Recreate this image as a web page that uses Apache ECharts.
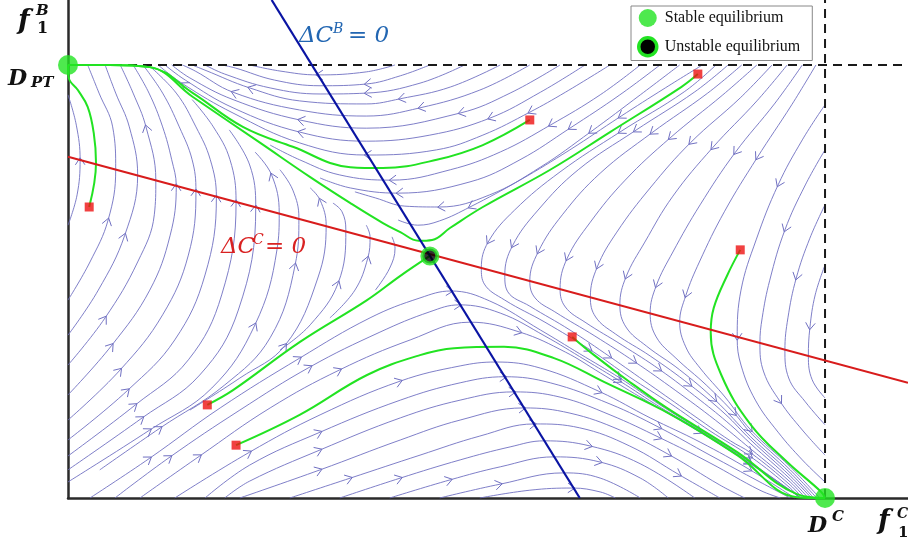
<!DOCTYPE html>
<html><head><meta charset="utf-8">
<script src="https://cdn.jsdelivr.net/npm/echarts@6/dist/echarts.min.js"></script>
<style>html,body{margin:0;padding:0;background:#fff}#c{width:908px;height:550px}</style>
</head><body><div id="c"></div>
<script>
// Units: f1C in % of D^C (D^C = 100), f1B in % of D_PT (D_PT = 100)
const xMax = 110.96, yMax = 115.0;

// streamlines, each listed in the direction of the flow
const leftArcs = [
  [[0,63.0],[1.2,70.0],[1.6,78.1],[1.1,86.1],[0,93.1]],
  [[0,45.7],[2.9,54.5],[5.3,64.2],[6.3,75.8],[5.9,85.7],[4.1,93.5],[2.6,100]],
  [[0,37.6],[4.0,48.0],[7.5,60.7],[9.2,74.6],[8.1,85.7],[6.3,93.5],[4.9,100]],
  [[0,30.7],[4.9,41.6],[9.2,54.5],[11.4,65.4],[11.6,73.4],[10.3,85.7],[8.6,93.5],[6.9,100]],
  [[0,23.8],[5.8,35.3],[10.8,48.0],[13.5,60.7],[14.3,72.1],[13.7,78.1],[12.5,85.7],[10.7,93.5],[8.6,100]],
  [[0,18.0],[6.9,29.6],[12.5,42.3],[15.9,56.1],[16.9,70.9],[16.4,78.1],[14.7,85.7],[12.5,93.5],[9.9,100]],
  [[0,13.4],[7.9,24.9],[14.1,36.5],[18.1,51.5],[19.6,69.5],[18.8,78.1],[16.9,85.7],[14.3,93.5],[10.6,100]],
  [[0,9.7],[8.9,21.5],[15.9,31.9],[20.3,46.9],[22.2,68.4],[21.4,78.1],[19.2,85.7],[16.4,92.0]],
  [[0,6.5],[9.8,18.5],[17.4,28.4],[22.5,43.4],[24.8,67.2],[24.0,76.9],[21.3,85.0]],
  [[0,3.7],[10.8,15.7],[19.0,25.4],[24.7,40.0],[27.6,57.3],[27.9,65.8],[26.9,74.6],[24.7,79.9]],
  [[4.2,6.5],[12.2,16.2],[20.7,26.1],[26.7,37.0],[30.0,53.8],[30.5,64.7],[29.7,71.1],[28.0,75.8]],
  [[16.1,20.3],[22.7,27.7],[28.7,35.3],[33.0,50.8],[34.1,63.0],[33.3,68.8],[32.0,71.6]],
  [[28.0,34.2],[32.0,40.0],[35.7,49.7],[36.7,61.9],[36.2,66.1],[35.0,68.1]],
  [[34.6,41.6],[37.9,48.0],[39.6,55.4],[39.9,60.3],[39.4,63.0]],
  [[40.6,48.0],[42.5,53.1],[43.2,57.7],[42.8,60.3]]
];
const topArcs = [
  [[43.2,100],[39.4,98.4],[33.0,97.7],[28.0,98.6],[24.0,100]],
  [[47.8,100],[43.9,97.5],[39.4,95.6],[33.3,95.2],[27.3,96.5],[22.1,99.3],[20.3,100]],
  [[52.4,100],[46.5,95.8],[39.4,93.5],[33.3,93.3],[26.7,94.7],[20.7,97.9],[18.1,100]],
  [[57.1,100],[50.5,94.9],[43.9,92.2],[39.4,91.0],[30.6,91.7],[24.0,94.7],[18.1,98.8],[16.4,100]],
  [[61.0,100],[54.4,94.2],[46.5,90.1],[39.4,88.2],[30.6,89.6],[21.8,93.7],[16.8,98.6],[15.1,100]],
  [[65.0,100],[58.4,93.5],[51.8,88.9],[39.4,85.4],[30.6,87.3],[21.8,92.0],[16.1,97.0],[13.7,100]],
  [[68.3,100],[62.4,93.7],[55.7,87.7],[47.8,83.8],[39.4,82.4],[30.6,84.5],[21.8,90.1],[15.5,96.5],[12.8,100]],
  [[71.6,100],[65.7,93.7],[61.0,89.1],[54.8,83.8],[48.7,80.4],[39.4,79.2],[30.6,82.0],[21.8,88.9],[15.2,95.6],[11.9,100]],
  [[75.6,100],[70.3,93.1],[63.7,86.1],[57.1,79.9],[50.5,75.8],[42.7,73.4],[35.9,74.6],[30.6,78.1],[26.7,81.5]],
  [[78.2,100],[72.9,93.1],[66.3,85.4],[59.7,78.1],[53.1,73.0],[43.6,70.4],[37.3,71.6],[33.3,73.9]],
  [[80.8,100],[75.6,93.1],[69.0,84.5],[62.4,76.4],[55.7,70.0],[49.1,67.2],[44.5,67.4],[40.6,69.3],[37.9,70.7]],
  [[83.8,100],[78.9,94.7],[72.9,88.0],[66.3,80.4],[59.7,73.4],[53.1,67.2],[49.1,64.0],[46.2,63.0],[43.6,64.2]]
];
const bottomArcs = [
  [[2.9,0],[10.8,9.2],[20.1,20.8],[30.6,32.3],[39.9,41.6],[46.5,46.2],[50.6,47.8],[55.7,45.5],[62.4,38.8],[67.6,33.3],[72.9,27.7],[78.2,21.5],[83.5,15.7],[90.1,8.3],[96.4,0.5]],
  [[6.2,0],[13.5,9.5],[22.7,20.3],[32.0,30.3],[41.2,38.3],[47.8,43.0],[51.7,44.6],[57.1,42.7],[63.0,37.4],[68.3,31.9],[72.9,27.0],[78.2,21.0],[83.5,15.5],[90.1,8.1],[96.7,0.2]],
  [[9.5,0],[17.4,9.7],[26.7,20.8],[35.9,29.6],[45.2,36.5],[53.1,40.6],[59.7,38.3],[65.7,33.7],[70.3,28.9],[75.6,23.3],[83.5,15.2],[90.1,7.9],[96.8,0]],
  [[14.1,0],[24.0,10.6],[33.3,19.2],[43.9,27.0],[51.8,30.5],[56.5,31.4],[62.4,30.0],[70.3,24.5],[76.9,18.5],[83.5,12.9],[90.1,6.5],[96.0,0]],
  [[18.1,0],[24.0,7.6],[33.3,15.2],[43.9,22.6],[51.8,26.6],[57.7,28.0],[63.7,26.6],[71.6,21.7],[78.2,16.2],[84.8,9.9],[91.4,3.7],[95.4,0]],
  [[20.7,0],[24.0,3.9],[33.3,11.1],[43.9,18.5],[51.8,22.6],[58.9,24.5],[65.0,23.3],[71.6,19.2],[78.2,13.9],[84.8,8.1],[91.4,1.8],[94.1,0]],
  [[22.7,0],[33.3,6.5],[43.9,13.4],[51.8,18.0],[60.2,20.8],[66.3,19.6],[72.9,15.7],[79.5,9.9],[86.1,3.0],[89.4,0]],
  [[29.3,0],[37.3,4.6],[46.5,9.9],[54.4,14.3],[61.6,17.1],[67.6,16.2],[74.2,12.0],[80.8,5.3],[86.1,0]],
  [[35.9,0],[43.9,4.6],[51.8,8.8],[58.4,11.8],[62.9,13.2],[69.0,12.0],[75.6,7.9],[82.8,0]],
  [[42.5,0],[50.5,4.2],[57.1,7.2],[64.2,9.5],[70.3,8.3],[75.6,4.6],[79.3,0]],
  [[49.1,0],[57.1,3.2],[65.5,5.8],[70.3,4.6],[75.6,0]],
  [[54.4,0],[61.0,1.8],[66.7,2.3],[70.3,1.4],[72.3,0]]
];
const rightArcs = [
  [[85.6,100],[81.4,93.8],[72.9,84.5],[65.0,75.3],[59.0,66.5],[55.5,59.1],[54.6,53.1],[55.0,49.4],[57.7,45.7],[63.0,40.6],[69.0,34.2],[74.2,27.9],[79.5,21.9],[84.8,15.5],[90.2,9.5],[95.4,2.3],[96.6,0]],
  [[87.2,100],[82.8,93.8],[74.9,84.8],[67.4,75.8],[62.1,66.5],[58.7,58.2],[57.7,51.5],[58.1,47.6],[61.0,44.3],[66.3,38.8],[71.6,32.6],[76.9,26.1],[82.2,19.6],[87.5,13.2],[90.2,10.4],[95.4,3.0],[97.0,0]],
  [[89.0,100],[84.5,93.5],[77.1,84.3],[70.3,75.0],[65.3,65.4],[62.1,56.8],[61.0,50.1],[61.7,46.2],[64.3,43.0],[69.6,37.4],[74.9,31.4],[80.2,24.9],[85.5,18.0],[90.2,11.3],[95.4,3.7],[97.4,0]],
  [[91.0,100],[86.5,93.1],[79.5,83.1],[73.6,73.4],[69.0,63.7],[65.9,55.2],[65.0,48.3],[65.7,44.1],[68.3,40.6],[73.2,35.3],[78.2,29.6],[83.5,22.6],[87.5,16.9],[90.2,12.5],[95.4,4.4],[97.8,0]],
  [[93.0,100],[88.8,92.4],[82.2,82.0],[76.9,71.6],[72.5,61.4],[69.9,53.3],[69.0,46.4],[69.7,41.8],[72.3,37.9],[76.9,32.8],[82.2,26.1],[86.8,19.4],[90.2,13.4],[95.4,5.1],[98.2,0]],
  [[95.0,100],[91.0,91.7],[85.1,80.8],[79.9,69.7],[76.2,59.1],[73.7,51.0],[72.9,44.6],[73.7,39.5],[76.4,35.1],[80.8,29.6],[85.5,22.6],[90.2,14.1],[95.4,5.8],[98.5,0]],
  [[97.0,100],[93.4,91.2],[88.1,79.7],[83.5,67.7],[79.9,56.8],[77.7,49.0],[76.9,42.7],[77.7,37.2],[80.3,32.3],[84.3,26.1],[88.1,19.4],[90.2,15.0],[95.4,6.5],[98.9,0]],
  [[98.8,100],[95.6,90.8],[91.0,78.5],[86.7,66.1],[83.4,54.5],[81.6,46.7],[80.8,40.6],[81.6,34.9],[83.5,30.0],[86.8,23.3],[90.2,15.7],[95.4,7.2],[99.3,0]],
  [[100,90.8],[97.0,82.7],[93.8,72.3],[90.9,59.6],[88.9,48.0],[88.4,36.9],[88.9,30.7],[90.8,22.6],[93.8,15.2],[97.0,8.8],[100,3.7]],
  [[100,80.4],[97.4,72.3],[94.7,61.9],[92.7,50.3],[91.7,41.6],[91.4,35.8],[91.9,29.1],[94.1,22.2],[97.0,15.7],[100,9.9]],
  [[100,67.7],[98.0,60.0],[96.2,50.8],[95.1,41.6],[94.7,34.2],[95.2,27.7],[97.4,22.2],[100,16.9]],
  [[100,53.8],[98.7,46.9],[98.0,39.3],[97.8,32.8],[98.3,27.3],[100,23.1]]
];

// simulated trajectories from the initial points (green)
const trajectories = [
  [[2.8,67.2],[3.7,77.4],[3.4,84.3],[2.6,90.3],[1.3,94.2],[0.1,97.0],[0,100]],
  [[61.0,87.3],[54.8,81.5],[48.7,78.1],[41.6,76.2],[37.3,76.4],[29.7,81.1],[23.1,85.7],[16.5,93.5],[10.8,99.5],[5.5,100],[0,100]],
  [[83.2,97.9],[81.0,94.9],[71.6,84.5],[63.7,75.8],[54.8,67.2],[50.5,62.4],[48.1,59.6],[46.3,59.4],[43.9,61.4],[41.6,63.5],[37.3,68.1],[32.0,74.1],[25.4,82.0],[16.5,92.6],[10.8,99.5],[5.5,100],[0,100]],
  [[18.4,21.5],[21.8,24.9],[30.6,36.0],[39.5,45.7],[43.9,51.3],[47.8,55.9]],
  [[22.2,12.2],[30.6,19.2],[39.5,28.4],[46.5,33.0],[51.0,34.6],[57.6,34.9],[64.2,32.3],[70.8,26.8],[79.7,19.2],[88.4,9.9],[96.3,0.2],[100,0]],
  [[66.6,37.2],[69.5,33.0],[74.2,26.8],[79.1,20.8],[88.4,10.6],[96.3,0.9],[100,0]],
  [[88.8,57.3],[87.1,51.5],[85.3,43.9],[84.9,38.3],[86.3,28.4],[90.2,16.9],[95.0,8.3],[99.5,1.4],[100,0]]
];
const initialPoints = [[2.8,67.2],[61.0,87.3],[83.2,97.9],[88.8,57.3],[66.6,37.2],[18.4,21.5],[22.2,12.2]];
const stableEq = [[0,100],[100,0]];
const unstableEq = [[47.8,55.9]];
const nullclineC = [[0,78.8],[110.96,26.6]];   // ΔC^C = 0
const nullclineB = [[26.9,115],[67.6,0]];      // ΔC^B = 0
const boundTop = [[0,100],[110.96,100]];       // D_PT
const boundRight = [[100,0],[100,115]];        // D^C

const STREAM = '#7070c2', GREEN = '#22e322';
const streamFamilies = [leftArcs, topArcs, bottomArcs, rightArcs];

const series = [];
streamFamilies.forEach(fam => fam.forEach(pts => {
  series.push({type:'line', data: pts, smooth: 0.4, symbol:'none', silent:true,
    lineStyle:{color: STREAM, width: 0.9}, z: 1});
}));
series.push({
  id:'arrows', type:'custom', data: [], silent:true, z: 1, encode:{x:[0,2,4], y:[1,3,5]},
  renderItem: function (params, api) {
    const p = api.coord([api.value(0), api.value(1)]);
    const a = api.coord([api.value(2), api.value(3)]);
    const b = api.coord([api.value(4), api.value(5)]);
    const ang = Math.atan2(b[1]-a[1], b[0]-a[0]);
    const L = 8.5, th = 0.6;
    const tip = [p[0] + 2*Math.cos(ang), p[1] + 2*Math.sin(ang)];
    const p1 = [tip[0] - L*Math.cos(ang+th), tip[1] - L*Math.sin(ang+th)];
    const p2 = [tip[0] - L*Math.cos(ang-th), tip[1] - L*Math.sin(ang-th)];
    return {type:'polyline', shape:{points:[p1, tip, p2]}, style:{stroke: STREAM, lineWidth: 1, fill: 'none'}};
  }
});
series.push({type:'line', data: boundTop, symbol:'none', silent:true, lineStyle:{color:'#1a1a1a', width:2, type:[9,6]}, z: 2});
series.push({type:'line', data: boundRight, symbol:'none', silent:true, lineStyle:{color:'#1a1a1a', width:2, type:[9,6]}, z: 2});
trajectories.forEach(pts => series.push({type:'line', data: pts, smooth: 0.4, symbol:'none', silent:true,
  lineStyle:{color: GREEN, width: 2}, z: 3}));
series.push({type:'line', data: nullclineC, symbol:'none', silent:true, lineStyle:{color:'#d81c1c', width:2.2}, z: 4});
series.push({type:'line', data: nullclineB, symbol:'none', silent:true, lineStyle:{color:'#0a14a3', width:2.2}, z: 4});
series.push({type:'scatter', data: initialPoints, symbol:'rect', symbolSize: 9, silent:true, itemStyle:{color:'#ee1111'}, z: 5});
series.push({type:'scatter', name:'Stable equilibrium', data: stableEq, symbolSize: 20, clip:false, silent:true, itemStyle:{color: GREEN}, z: 6});
series.push({type:'scatter', name:'Unstable equilibrium', data: unstableEq, symbolSize: 15, clip:false, silent:true,
  itemStyle:{color:'#000', borderColor: GREEN, borderWidth: 4}, z: 6});

const T = '#111';
const fb = 'italic bold 27px "DejaVu Serif"';
const graphic = [
  {type:'text', x:18, y:8, style:{text:'f', font: fb, fill:T}},
  {type:'text', x:36, y:4, style:{text:'B', font:'italic bold 15px "DejaVu Serif"', fill:T}},
  {type:'text', x:37, y:21, style:{text:'1', font:'bold 16px "DejaVu Serif"', fill:T}},
  {type:'text', x:8, y:68, style:{text:'D', font:'italic bold 22px "DejaVu Serif"', fill:T}},
  {type:'text', x:31, y:76, style:{text:'PT', font:'italic bold 15px "DejaVu Serif"', fill:T}},
  {type:'text', x:808, y:515, style:{text:'D', font:'italic bold 22px "DejaVu Serif"', fill:T}},
  {type:'text', x:832, y:510, style:{text:'C', font:'italic bold 15px "DejaVu Serif"', fill:T}},
  {type:'text', x:878, y:508, style:{text:'f', font: fb, fill:T}},
  {type:'text', x:897, y:507, style:{text:'C', font:'italic bold 14px "DejaVu Serif"', fill:T}},
  {type:'text', x:898, y:526, style:{text:'1', font:'bold 15px "DejaVu Serif"', fill:T}},
  {type:'text', x:299, y:25, style:{text:'ΔC', font:'italic 23px "DejaVu Serif"', fill:'#2266b2'}},
  {type:'text', x:333, y:22, style:{text:'B', font:'italic 14px "DejaVu Serif"', fill:'#2266b2'}},
  {type:'text', x:348, y:25, style:{text:'= 0', font:'italic 23px "DejaVu Serif"', fill:'#2266b2'}},
  {type:'text', x:221, y:236, style:{text:'ΔC', font:'italic 23px "DejaVu Serif"', fill:'#d92222'}},
  {type:'text', x:253, y:233, style:{text:'C', font:'italic 14px "DejaVu Serif"', fill:'#d92222'}},
  {type:'text', x:265, y:236, style:{text:'= 0', font:'italic 23px "DejaVu Serif"', fill:'#d92222'}}
].map(g => Object.assign(g, {z: 100, silent: true}));

const chart = echarts.init(document.getElementById('c'), null, {renderer:'canvas'});
chart.setOption({
  animation: false,
  backgroundColor: '#fff',
  grid: {left: 68, right: 0, top: 0, bottom: 52, containLabel: false},
  xAxis: {type:'value', min: 0, max: xMax, axisLine:{show:true, onZero:false, lineStyle:{color:'#2a2a2a', width:2.5}},
    axisTick:{show:false}, axisLabel:{show:false}, splitLine:{show:false}},
  yAxis: {type:'value', min: 0, max: yMax, axisLine:{show:true, onZero:false, lineStyle:{color:'#2a2a2a', width:2.5}},
    axisTick:{show:false}, axisLabel:{show:false}, splitLine:{show:false}},
  legend: {
    data: [
      {name:'Stable equilibrium', icon:'circle', itemStyle:{color: GREEN, borderWidth:0}},
      {name:'Unstable equilibrium', icon:'circle', itemStyle:{color:'#000', borderColor: GREEN, borderWidth:3.5, opacity:1}}
    ],
    orient:'vertical', left: 631, top: 6, itemWidth: 18, itemHeight: 18, itemGap: 9,
    padding: [3, 12, 3, 6], borderColor:'#888', borderWidth: 1, backgroundColor:'#fff', selectedMode: false,
    textStyle: {fontFamily:'"Liberation Serif"', fontSize: 16, color:'#111', padding:[0,0,0,3]}
  },
  series: series,
  graphic: graphic
});

// direction arrows: on streamline vertices, spaced by on-screen distance along each line
const arrows = [];
const eqPx = stableEq.map(p => chart.convertToPixel('grid', p));
streamFamilies.forEach(fam => fam.forEach(pts => {
  const px = pts.map(p => chart.convertToPixel('grid', p));
  let acc = 0, next = 60;
  for (let i = 1; i < pts.length - 1; i++) {
    acc += Math.hypot(px[i][0]-px[i-1][0], px[i][1]-px[i-1][1]);
    if (acc < next) continue;
    const nearEq = eqPx.some(e => Math.hypot(px[i][0]-e[0], px[i][1]-e[1]) < 80);
    if (!nearEq) arrows.push([pts[i][0], pts[i][1], pts[i-1][0], pts[i-1][1], pts[i+1][0], pts[i+1][1]]);
    next = acc + 150;
  }
}));
chart.setOption({series: [{id:'arrows', data: arrows}]});
</script></body></html>
